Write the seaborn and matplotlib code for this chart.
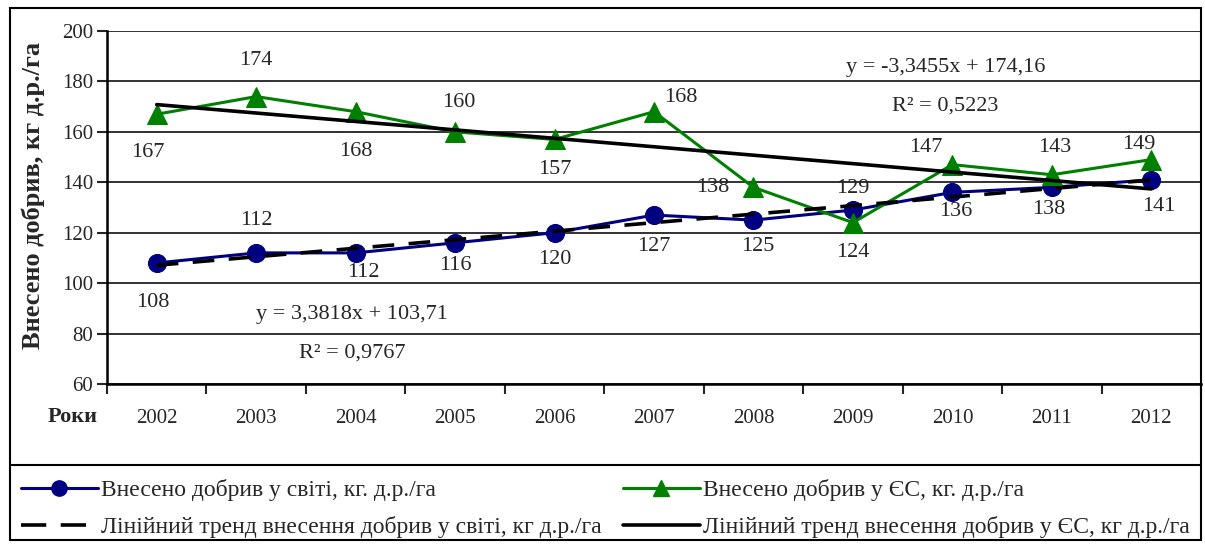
import numpy as np
import pandas as pd
import matplotlib.pyplot as plt
import seaborn as sns
from matplotlib.lines import Line2D
from matplotlib.patches import Rectangle

# Data
years = [2002, 2003, 2004, 2005, 2006, 2007, 2008, 2009, 2010, 2011, 2012]
world = [108, 112, 112, 116, 120, 127, 125, 129, 136, 138, 141]
eu = [167, 174, 168, 160, 157, 168, 138, 124, 147, 143, 149]

world_eq = "y = 3,3818x + 103,71"
world_r2 = "R² = 0,9767"
eu_eq = "y = -3,3455x + 174,16"
eu_r2 = "R² = 0,5223"

labels = {
    "world": "Внесено добрив у світі, кг. д.р./га",
    "eu": "Внесено добрив у ЄС, кг. д.р./га",
    "world_tr": "Лінійний тренд внесення добрив у світі, кг д.р./га",
    "eu_tr": "Лінійний тренд внесення добрив у ЄС, кг д.р./га",
}

df = pd.DataFrame({"year": years, "world": world, "eu": eu})

sns.set_style("white")
plt.rcParams["font.family"] = ["Liberation Serif", "DejaVu Serif"]
plt.rcParams["font.size"] = 16

fig = plt.figure(figsize=(12.05, 5.46), dpi=100)
ax = fig.add_axes([0.0888, 0.2967, 0.9079, 0.6465])

# data lines
sns.lineplot(data=df, x="year", y="world", ax=ax, color="#000080", lw=2.2,
             marker="o", markersize=13, markeredgecolor="#000080", zorder=3)
sns.lineplot(data=df, x="year", y="eu", ax=ax, color="#008000", lw=2.2,
             marker="^", markersize=14, markeredgecolor="#008000", zorder=3)

# linear trends
sns.regplot(data=df, x="year", y="world", ax=ax, ci=None, scatter=False,
            line_kws=dict(color="black", lw=2.6, ls=(0, (6, 4)), zorder=4))
sns.regplot(data=df, x="year", y="eu", ax=ax, ci=None, scatter=False,
            line_kws=dict(color="black", lw=2.6, zorder=4))

# data labels (offsets in pixels)
world_off = [(-4, -40), (0, 32), (8, -20), (0, -23), (0, -27), (0, -31),
             (4, -26), (0, 22), (3, -19), (-3, -22), (8, -27)]
eu_off = [(-9, -38), (0, 36), (0, -40), (4, 29), (0, -30), (27, 14),
          (-41, 0), (0, -30), (-27, 17), (3, 27), (-12, 15)]
for x, v, o in zip(years, world, world_off):
    ax.annotate(str(v), (x, v), xytext=o, textcoords="offset pixels",
                ha="center", va="center", fontsize=16)
for x, v, o in zip(years, eu, eu_off):
    ax.annotate(str(v), (x, v), xytext=o, textcoords="offset pixels",
                ha="center", va="center", fontsize=16)

# trend equations
ax.text(2003.96, 87.4, world_eq, ha="center", va="center", fontsize=16)
ax.text(2003.97, 72.3, world_r2, ha="center", va="center", fontsize=16)
ax.text(2009.93, 185.6, eu_eq, ha="center", va="center", fontsize=16)
ax.text(2009.93, 170.4, eu_r2, ha="center", va="center", fontsize=16)

# axes
ax.set_xlim(2001.5, 2012.5)
ax.set_ylim(60, 200)
ax.set_yticks(range(60, 201, 20))
ax.set_xticks(years)
ax.set_xticks(np.arange(2001.5, 2013, 1), minor=True)
ax.tick_params(axis="x", which="major", length=0, pad=18, labelsize=15)
ax.tick_params(axis="x", which="minor", length=7, width=1.5, direction="out",
               bottom=True)
ax.tick_params(axis="y", length=7, width=1.5, direction="out", left=True,
               labelsize=15, pad=3)
ax.grid(axis="y", color="#222222", lw=1.3)
for s in ["top", "right"]:
    ax.spines[s].set_visible(False)
for s in ["left", "bottom"]:
    ax.spines[s].set_color("black")
    ax.spines[s].set_linewidth(1.8)
ax.set_xlabel("")
ax.set_ylabel("Внесено добрив, кг д.р./га", fontsize=19, fontweight="bold")
ax.yaxis.set_label_coords(-0.057, 0.535)
fig.text(0.06, 0.236, "Роки", ha="center", va="center", fontsize=16,
         fontweight="bold")

# frame and legend area
fig.patches.append(Rectangle((0.0083, 0.011), 0.9884, 0.9743, fill=False,
                             lw=1.5, ec="black", transform=fig.transFigure))
fig.add_artist(Line2D([0.0083, 0.9967], [0.1484, 0.1484], color="black",
                      lw=1.5, transform=fig.transFigure))

h_world = Line2D([], [], color="#000080", lw=2.2, marker="o", markersize=11)
h_world_tr = Line2D([], [], color="black", lw=2.6, ls=(0, (7, 4)))
h_eu = Line2D([], [], color="#008000", lw=2.2, marker="^", markersize=12)
h_eu_tr = Line2D([], [], color="black", lw=2.6)

leg_kw = dict(loc="center left", frameon=False, borderpad=0,
              borderaxespad=0, handlelength=3.25, handletextpad=0.12,
              labelspacing=0.62, fontsize=17)
fig.legend([h_world, h_world_tr], [labels["world"], labels["world_tr"]],
           bbox_to_anchor=(0.0174, 0.0687), **leg_kw)
fig.legend([h_eu, h_eu_tr], [labels["eu"], labels["eu_tr"]],
           bbox_to_anchor=(0.517, 0.0687), **leg_kw)

plt.savefig("out.png", dpi=100)
